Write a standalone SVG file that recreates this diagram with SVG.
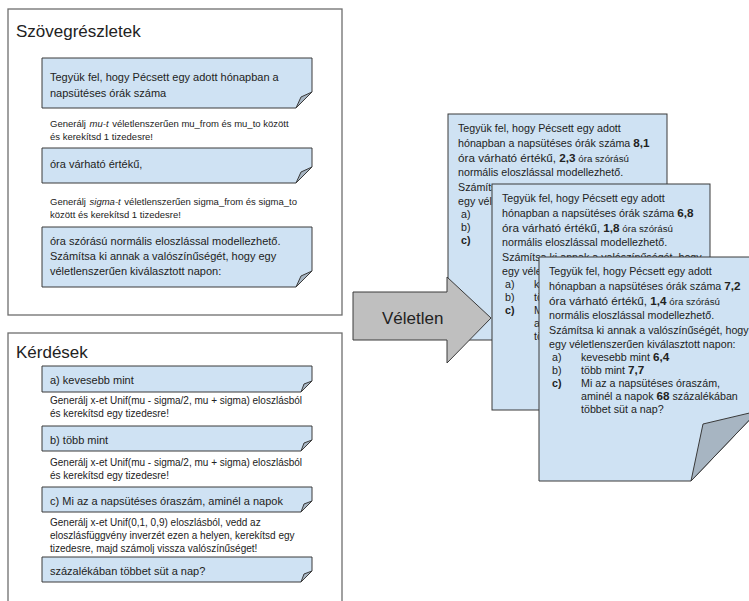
<svg xmlns="http://www.w3.org/2000/svg" width="749" height="601" viewBox="0 0 749 601">
<style>
text{font-family:"Liberation Sans",Arial,sans-serif;fill:#222}
.panel{fill:#fff;stroke:#6e6e6e;stroke-width:1.3}
.note{fill:#cfe2f3;stroke:#3a3a3a;stroke-width:1}
.fold{fill:#a7b5c2;stroke:#3a3a3a;stroke-width:1;stroke-linejoin:round}
.title{font-size:17px}
.nt{font-size:11px}
.sm{font-size:9.5px}
.sq{font-size:10px}
.ct{font-size:10.7px}
.b{font-weight:bold;font-size:11.7px}
.big{font-size:11.7px}
.small{font-size:9.7px}
.arrow{fill:#bfbfbf;stroke:#3a3a3a;stroke-width:1}
</style>
<rect width="749" height="601" fill="#fff"/>

<g id="panel-szoveg">
<rect class="panel" x="8" y="9" width="334" height="306"/>
<text class="title" x="16" y="37">Szövegrészletek</text>
</g>

<g id="note-1">
<polygon class="note" points="42,58 312,58 312,92 296,108 42,108"/>
<polygon class="fold" points="296,108 301,97 312,92"/>
<text class="nt" x="50" y="81">Tegyük fel, hogy Pécsett egy adott hónapban a</text>
<text class="nt" x="50" y="97">napsütéses órák száma</text>
</g>
<g id="hint-mu">
<text class="sm" x="50" y="127">Generálj <tspan dx="1" font-style="italic">mu-t</tspan><tspan dx="1"> véletlenszerűen mu_from és mu_to között</tspan></text>
<text class="sm" x="50" y="140">és kerekítsd 1 tizedesre!</text>
</g>
<g id="note-2">
<polygon class="note" points="42,148 312,148 312,167 296,183 42,183"/>
<polygon class="fold" points="296,183 301,172 312,167"/>
<text class="nt" x="50" y="168">óra várható értékű,</text>
</g>
<g id="hint-sigma">
<text class="sm" x="50" y="205">Generálj <tspan dx="1" font-style="italic">sigma-t</tspan><tspan dx="1"> véletlenszerűen sigma_from és sigma_to</tspan></text>
<text class="sm" x="50" y="218">között és kerekítsd 1 tizedesre!</text>
</g>
<g id="note-3">
<polygon class="note" points="42,227 312,227 312,271 296,287 42,287"/>
<polygon class="fold" points="296,287 301,276 312,271"/>
<text class="nt" x="50" y="245">óra szórású normális eloszlással modellezhető.</text>
<text class="nt" x="50" y="260">Számítsa ki annak a valószínűségét, hogy egy</text>
<text class="nt" x="50" y="275">véletlenszerűen kiválasztott napon:</text>
</g>

<g id="panel-kerdesek">
<rect class="panel" x="8" y="333" width="334" height="290"/>
<text class="title" x="16" y="358">Kérdések</text>
</g>
<g id="q-a">
<polygon class="note" points="42,366 312,366 312,381 301,392 42,392"/>
<polygon class="fold" points="301,392 304,384 312,381"/>
<text class="nt" x="50" y="384">a) kevesebb mint</text>
</g>
<g id="hint-a">
<text class="sq" x="50" y="404">Generálj x-et Unif(mu - sigma/2, mu + sigma) eloszlásból</text>
<text class="sq" x="50" y="417">és kerekítsd egy tizedesre!</text>
</g>
<g id="q-b">
<polygon class="note" points="42,426 312,426 312,440 301,451 42,451"/>
<polygon class="fold" points="301,451 304,443 312,440"/>
<text class="nt" x="50" y="444">b) több mint</text>
</g>
<g id="hint-b">
<text class="sq" x="50" y="466">Generálj x-et Unif(mu - sigma/2, mu + sigma) eloszlásból</text>
<text class="sq" x="50" y="479">és kerekítsd egy tizedesre!</text>
</g>
<g id="q-c">
<polygon class="note" points="42,487 312,487 312,501 301,512 42,512"/>
<polygon class="fold" points="301,512 304,504 312,501"/>
<text class="nt" x="50" y="505">c) Mi az a napsütéses óraszám, aminél a napok</text>
</g>
<g id="hint-c">
<text class="sq" x="50" y="526">Generálj x-et Unif(0,1, 0,9) eloszlásból, vedd az</text>
<text class="sq" x="50" y="539">eloszlásfüggvény inverzét ezen a helyen, kerekítsd egy</text>
<text class="sq" x="50" y="552">tizedesre, majd számolj vissza valószínűséget!</text>
</g>
<g id="q-d">
<polygon class="note" points="42,557 312,557 312,571 301,582 42,582"/>
<polygon class="fold" points="301,582 304,574 312,571"/>
<text class="nt" x="50" y="575">százalékában többet süt a nap?</text>
</g>

<g id="card-1">
<rect class="note" x="448" y="114" width="219" height="226"/>
<text class="ct" x="458" y="132">Tegyük fel, hogy Pécsett egy adott</text>
<text class="ct" x="458" y="147">hónapban a napsütéses órák száma <tspan class="b">8,1</tspan></text>
<text class="ct" x="458" y="162"><tspan class="big">óra várható értékű, </tspan><tspan class="b">2,3</tspan><tspan class="small"> óra szórású</tspan></text>
<text class="ct" x="458" y="176">normális eloszlással modellezhető.</text>
<text class="ct" x="458" y="191">Számíts</text>
<text class="ct" x="458" y="205">egy vél</text>
<text class="ct" x="461" y="218">a)</text>
<text class="ct" x="461" y="231">b)</text>
<text class="ct" x="461" y="244" font-weight="bold">c)</text>
</g>

<g id="connectors">
<polygon id="arrow-veletlen" class="arrow" points="353,292 447,292 447,277 491,318 447,363 447,340 353,340"/>
<text x="382" y="324" font-size="17">Véletlen</text>
</g>

<g id="card-2">
<rect class="note" x="492" y="184" width="218" height="226"/>
<text class="ct" x="502" y="202">Tegyük fel, hogy Pécsett egy adott</text>
<text class="ct" x="502" y="217">hónapban a napsütéses órák száma <tspan class="b">6,8</tspan></text>
<text class="ct" x="502" y="232"><tspan class="big">óra várható értékű, </tspan><tspan class="b">1,8</tspan><tspan class="small"> óra szórású</tspan></text>
<text class="ct" x="502" y="246">normális eloszlással modellezhető.</text>
<text class="ct" x="502" y="261">Számítsa ki annak a valószínűségét, hogy</text>
<text class="ct" x="502" y="275">egy véle</text>
<text class="ct" x="505" y="288">a)</text><text class="ct" x="534" y="288">ke</text>
<text class="ct" x="505" y="301">b)</text><text class="ct" x="534" y="301">tö</text>
<text class="ct" x="505" y="314" font-weight="bold">c)</text><text class="ct" x="534" y="314">Mi</text>
<text class="ct" x="534" y="327">am</text>
<text class="ct" x="534" y="340">tö</text>
</g>

<g id="card-3">
<polygon class="note" points="539,257 758,257 758,411 691,481 539,481"/>
<polygon class="fold" points="691,481 703,424 758,411"/>
<text class="ct" x="549" y="275">Tegyük fel, hogy Pécsett egy adott</text>
<text class="ct" x="549" y="290">hónapban a napsütéses órák száma <tspan class="b">7,2</tspan></text>
<text class="ct" x="549" y="305"><tspan class="big">óra várható értékű, </tspan><tspan class="b">1,4</tspan><tspan class="small"> óra szórású</tspan></text>
<text class="ct" x="549" y="319">normális eloszlással modellezhető.</text>
<text class="ct" x="549" y="334">Számítsa ki annak a valószínűségét, hogy</text>
<text class="ct" x="549" y="348">egy véletlenszerűen kiválasztott napon:</text>
<text class="ct" x="552" y="361">a)</text><text class="ct" x="581" y="361">kevesebb mint <tspan class="b">6,4</tspan></text>
<text class="ct" x="552" y="374">b)</text><text class="ct" x="581" y="374">több mint <tspan class="b">7,7</tspan></text>
<text class="ct" x="552" y="387" font-weight="bold">c)</text><text class="ct" x="581" y="387">Mi az a napsütéses óraszám,</text>
<text class="ct" x="581" y="400">aminél a napok <tspan class="b">68</tspan> százalékában</text>
<text class="ct" x="581" y="413">többet süt a nap?</text>
</g>
</svg>
